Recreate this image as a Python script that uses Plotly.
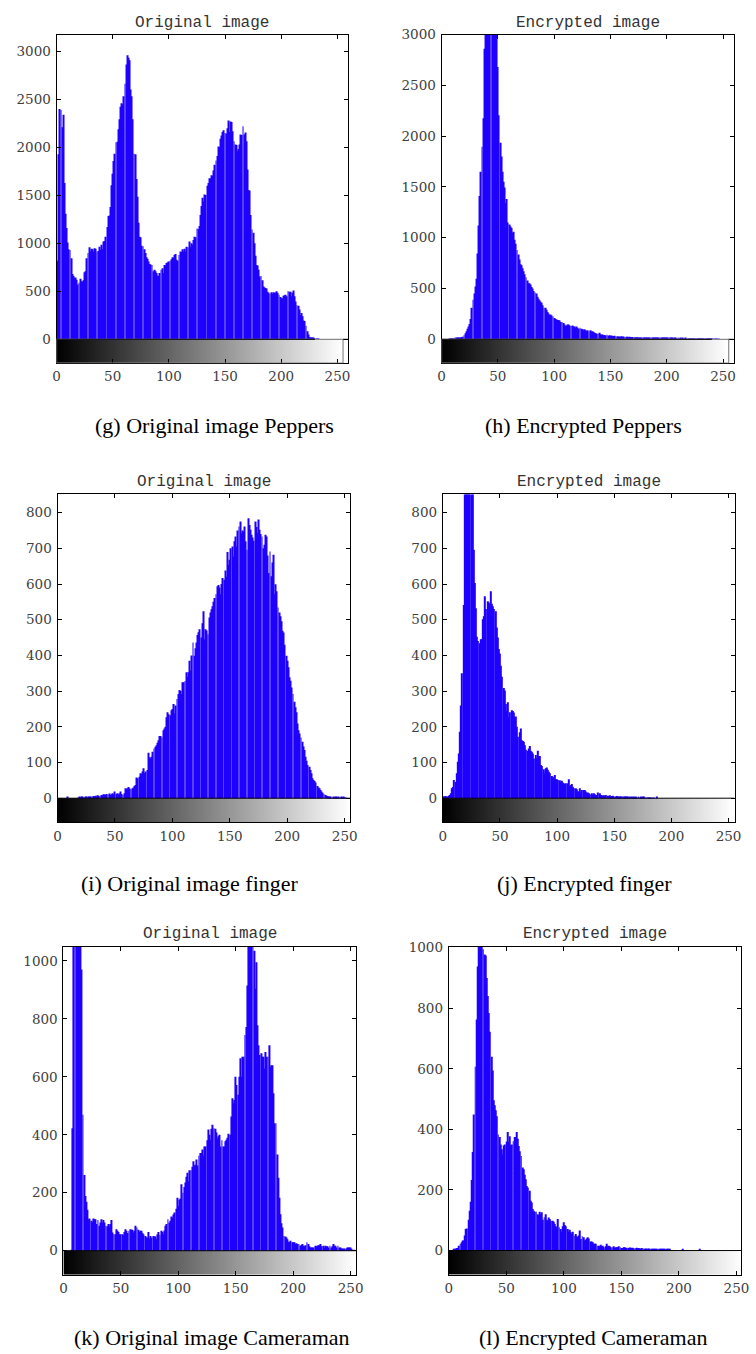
import plotly.graph_objects as go

W, H = 756, 1354

BINS = list(range(256))
X_TICKS = [0, 50, 100, 150, 200, 250]

# (g) Original image Peppers
PEPPERS_ORIG = [
    240, 820, 1930, 2400, 2390, 2210, 2340, 1630, 1310, 1160,
    1010, 940, 930, 845, 680, 660, 640, 645, 620, 570,
    590, 630, 605, 600, 615, 700, 710, 845, 900, 960,
    915, 945, 940, 910, 950, 945, 915, 920, 965, 930,
    985, 940, 1020, 1025, 1070, 1170, 1285, 1290, 1380, 1605,
    1725, 1860, 1935, 2055, 2060, 2190, 2295, 2425, 2460, 2450,
    2535, 2665, 2865, 2960, 2935, 2910, 2605, 2535, 2295, 1935,
    1930, 1670, 1485, 1215, 1070, 1065, 975, 970, 940, 900,
    855, 840, 810, 785, 780, 775, 710, 725, 710, 690,
    665, 660, 690, 725, 740, 690, 775, 770, 795, 800,
    810, 820, 835, 855, 850, 880, 890, 830, 820, 880,
    915, 910, 940, 915, 945, 915, 965, 960, 1020, 965,
    1000, 985, 1035, 1070, 1065, 1155, 1150, 1180, 1295, 1390,
    1475, 1440, 1510, 1505, 1600, 1630, 1680, 1675, 1710, 1705,
    1760, 1820, 1865, 1910, 2010, 2005, 2090, 2125, 2160, 2180,
    2150, 2145, 2200, 2280, 2160, 2270, 2265, 2170, 2065, 2030,
    2025, 1960, 1985, 2030, 2135, 2130, 2220, 2135, 2155, 2065,
    1770, 1555, 1550, 1295, 1145, 1110, 1000, 870, 775, 770,
    725, 655, 660, 615, 550, 540, 535, 530, 495, 485,
    475, 490, 475, 490, 485, 485, 500, 485, 465, 440,
    430, 425, 455, 460, 465, 450, 500, 495, 495, 450,
    485, 510, 450, 395, 355, 350, 310, 250, 275, 240,
    195, 190, 140, 85, 50, 25, 15, 12, 10, 10,
    5, 3, 2, 1, 0, 0, 0, 0, 0, 0,
    0, 0, 0, 0, 0, 0, 0, 0, 0, 0,
    0, 0, 0, 0, 0, 0,
]

# (h) Encrypted Peppers
PEPPERS_ENC = [
    0, 0, 0, 0, 0, 0, 0, 1, 1, 2,
    3, 5, 8, 10, 8, 12, 14, 16, 20, 26,
    40, 60, 80, 105, 125, 150, 200, 310, 390, 450,
    520, 595, 845, 1120, 1410, 1650, 1895, 2175, 2860, 3400,
    3700, 4100, 4300, 4250, 3900, 3800, 3600, 3400, 3200, 3050,
    2680, 2205, 1935, 1800, 1650, 1550, 1495, 1340, 1380, 1150,
    1130, 1110, 1095, 1050, 1060, 980, 940, 880, 835, 785,
    740, 730, 700, 670, 640, 610, 580, 555, 550, 540,
    515, 500, 475, 460, 450, 420, 400, 385, 370, 360,
    335, 310, 310, 290, 270, 255, 240, 245, 235, 225,
    210, 200, 195, 190, 190, 185, 170, 170, 160, 145,
    130, 135, 145, 145, 135, 130, 135, 125, 125, 115,
    125, 115, 105, 115, 105, 100, 90, 100, 90, 80,
    90, 80, 90, 78, 80, 72, 65, 60, 58, 52,
    65, 50, 45, 48, 40, 42, 38, 45, 35, 40,
    35, 38, 30, 32, 35, 28, 30, 26, 28, 25,
    30, 25, 27, 22, 25, 24, 20, 26, 22, 20,
    22, 18, 20, 17, 21, 18, 16, 19, 15, 17,
    15, 16, 14, 17, 13, 15, 12, 14, 13, 12,
    14, 11, 12, 10, 13, 11, 9, 12, 10, 9,
    10, 8, 11, 9, 8, 10, 7, 9, 8, 7,
    8, 7, 9, 6, 8, 7, 6, 8, 5, 7,
    6, 5, 7, 5, 6, 4, 6, 5, 4, 6,
    4, 5, 3, 4, 5, 3, 4, 3, 2, 3,
    2, 1, 2, 1, 1, 0, 1, 0, 0, 0,
    0, 0, 0, 0, 0, 0,
]

# (i) Original image finger
FINGER_ORIG = [
    0, 0, 0, 0, 0, 0, 0, 0, 0, 3,
    0, 0, 0, 0, 0, 0, 0, 0, 2, 3,
    2, 3, 4, 2, 3, 4, 0, 3, 4, 5,
    4, 6, 5, 7, 5, 8, 7, 6, 9, 8,
    11, 10, 9, 12, 10, 13, 9, 11, 14, 10,
    19, 12, 14, 10, 13, 19, 12, 9, 14, 28,
    25, 28, 31, 27, 25, 28, 30, 34, 37, 58,
    56, 60, 70, 68, 75, 84, 70, 75, 79, 127,
    115, 111, 116, 130, 139, 144, 148, 155, 162, 174,
    174, 170, 190, 195, 200, 227, 241, 235, 232, 246,
    250, 264, 238, 260, 278, 292, 303, 300, 292, 325,
    325, 328, 353, 340, 353, 385, 357, 400, 436, 399,
    420, 436, 457, 465, 473, 450, 490, 524, 445, 473,
    470, 459, 506, 520, 529, 538, 550, 561, 571, 594,
    597, 590, 571, 600, 617, 612, 638, 620, 690, 654,
    668, 700, 705, 677, 720, 733, 705, 750, 761, 775,
    742, 750, 747, 761, 720, 696, 784, 765, 752, 738,
    730, 721, 775, 760, 742, 781, 752, 740, 733, 700,
    710, 738, 733, 680, 631, 691, 622, 660, 682, 571,
    599, 580, 534, 520, 510, 496, 469, 464, 430, 399,
    385, 367, 339, 329, 310, 292, 270, 255, 241, 209,
    190, 181, 170, 158, 145, 135, 116, 105, 93, 88,
    79, 70, 56, 51, 48, 44, 34, 30, 28, 23,
    19, 15, 12, 9, 7, 6, 5, 3, 4, 2,
    3, 2, 4, 3, 2, 5, 2, 3, 1, 4,
    2, 1, 0, 0, 0, 0,
]

# (j) Encrypted finger
FINGER_ENC = [
    5, 4, 5, 6, 5, 7, 9, 14, 28, 31,
    51, 45, 70, 102, 125, 186, 260, 350, 541, 1000,
    1150, 1250, 1300, 1200, 1100, 1000, 950, 696, 603, 532,
    452, 440, 434, 445, 445, 501, 510, 566, 530, 552,
    548, 543, 580, 545, 538, 530, 524, 478, 450, 418,
    405, 371, 340, 309, 302, 264, 244, 269, 227, 241,
    246, 244, 240, 227, 229, 200, 172, 185, 195, 162,
    160, 158, 148, 136, 133, 139, 146, 133, 130, 125,
    111, 121, 111, 133, 118, 118, 93, 90, 81, 70,
    84, 86, 80, 74, 70, 62, 60, 56, 65, 53,
    53, 51, 50, 46, 49, 44, 42, 40, 42, 42,
    53, 34, 37, 40, 32, 28, 28, 25, 19, 19,
    28, 16, 23, 23, 23, 19, 14, 16, 14, 11,
    14, 9, 14, 11, 9, 9, 16, 14, 9, 8,
    7, 8, 6, 9, 7, 6, 8, 5, 6, 7,
    5, 4, 6, 5, 4, 5, 3, 5, 4, 3,
    4, 3, 4, 2, 3, 4, 2, 3, 2, 4,
    2, 3, 2, 4, 2, 3, 4, 2, 1, 2,
    1, 2, 1, 0, 1, 1, 0, 4, 0, 0,
    0, 0, 0, 0, 0, 0, 0, 0, 0, 0,
    0, 0, 0, 0, 0, 0, 0, 0, 0, 0,
    0, 0, 0, 0, 0, 0, 0, 0, 0, 0,
    0, 0, 0, 0, 0, 0, 0, 0, 0, 0,
    0, 0, 0, 0, 0, 0, 0, 0, 0, 0,
    0, 0, 0, 0, 0, 0, 0, 0, 0, 0,
    0, 0, 0, 0, 0, 0,
]

# (k) Original image Cameraman
CAMERAMAN_ORIG = [
    0, 0, 0, 0, 0, 0, 0, 3, 423, 1600,
    2300, 2500, 2200, 1900, 1500, 1200, 970, 469, 261, 189,
    169, 141, 109, 111, 103, 100, 111, 109, 109, 92,
    106, 86, 97, 109, 97, 106, 97, 86, 84, 92,
    84, 92, 106, 63, 57, 57, 74, 69, 65, 57,
    57, 57, 54, 65, 74, 69, 61, 69, 74, 72,
    72, 63, 69, 86, 80, 72, 65, 69, 69, 61,
    57, 51, 46, 46, 65, 42, 51, 46, 51, 49,
    49, 40, 57, 65, 54, 69, 65, 57, 70, 86,
    92, 109, 97, 103, 118, 114, 125, 132, 145, 183,
    154, 177, 180, 229, 200, 220, 235, 255, 269, 240,
    278, 278, 290, 309, 294, 297, 315, 294, 328, 337,
    337, 349, 328, 360, 360, 381, 418, 400, 383, 421,
    435, 423, 421, 408, 386, 395, 400, 360, 381, 360,
    360, 378, 383, 390, 404, 400, 463, 526, 509, 520,
    600, 572, 538, 600, 664, 600, 669, 669, 744, 772,
    915, 1150, 1300, 1250, 1100, 1180, 1035, 904, 995, 778,
    709, 675, 681, 669, 669, 629, 686, 669, 669, 709,
    635, 640, 640, 543, 440, 440, 332, 252, 183, 126,
    95, 80, 51, 49, 46, 40, 31, 29, 34, 29,
    29, 29, 23, 26, 23, 23, 17, 20, 23, 17,
    15, 19, 29, 23, 15, 11, 11, 11, 11, 17,
    15, 17, 19, 19, 23, 15, 17, 11, 17, 15,
    15, 11, 17, 11, 15, 23, 17, 17, 11, 17,
    11, 11, 8, 8, 6, 8, 8, 11, 11, 11,
    11, 6, 3, 1, 0, 0,
]

# (l) Encrypted Cameraman
CAMERAMAN_ENC = [
    0, 0, 0, 0, 5, 5, 5, 8, 8, 16,
    22, 27, 33, 33, 50, 71, 73, 102, 131, 161,
    233, 325, 449, 607, 763, 938, 1010, 1020, 1030, 1010,
    995, 977, 974, 900, 840, 784, 722, 640, 594, 496,
    480, 463, 443, 383, 375, 350, 334, 317, 347, 350,
    360, 391, 358, 377, 347, 350, 361, 375, 375, 391,
    369, 345, 328, 312, 274, 268, 250, 235, 213, 208,
    197, 164, 159, 137, 131, 128, 128, 120, 117, 128,
    120, 126, 102, 110, 120, 102, 98, 109, 104, 98,
    98, 95, 88, 80, 77, 104, 77, 71, 62, 80,
    93, 84, 80, 71, 62, 69, 60, 55, 62, 49,
    55, 47, 44, 50, 66, 38, 47, 44, 33, 36,
    40, 44, 40, 30, 30, 27, 22, 22, 22, 16,
    16, 14, 19, 14, 16, 11, 14, 22, 14, 16,
    14, 11, 11, 14, 8, 11, 11, 11, 14, 11,
    8, 8, 11, 11, 8, 9, 8, 10, 9, 8,
    9, 7, 8, 9, 7, 8, 7, 6, 8, 7,
    6, 7, 5, 6, 7, 5, 6, 5, 5, 6,
    5, 4, 5, 5, 4, 5, 4, 5, 4, 5,
    4, 5, 4, 0, 0, 0, 0, 0, 0, 0,
    0, 0, 0, 5, 0, 0, 0, 0, 0, 0,
    0, 0, 0, 0, 0, 0, 0, 0, 5, 0,
    0, 0, 0, 0, 0, 0, 0, 0, 0, 0,
    0, 0, 0, 0, 0, 0, 0, 0, 0, 0,
    0, 0, 0, 0, 0, 0, 0, 0, 0, 0,
    0, 0, 0, 0, 0, 0,
]

TITLES = ["Original image", "Encrypted image"] * 3
CAPTIONS = [
    "(g) Original image Peppers", "(h) Encrypted Peppers",
    "(i) Original image finger", "(j) Encrypted finger",
    "(k) Original image Cameraman", "(l) Encrypted Cameraman",
]
Y_TICKS = [
    [0, 500, 1000, 1500, 2000, 2500, 3000],
    [0, 500, 1000, 1500, 2000, 2500, 3000],
    [0, 100, 200, 300, 400, 500, 600, 700, 800],
    [0, 100, 200, 300, 400, 500, 600, 700, 800],
    [0, 200, 400, 600, 800, 1000],
    [0, 200, 400, 600, 800, 1000],
]
SERIES = [PEPPERS_ORIG, PEPPERS_ENC, FINGER_ORIG, FINGER_ENC, CAMERAMAN_ORIG, CAMERAMAN_ENC]

# layout geometry (pixels): box (left, right, top, bottom), axis ranges
PANELS = [
    dict(box=(53.3, 349.3, 26.7, 357.3), xr=[0, 259.6], yr=[-249, 3177], ty=15, cx=214, cy=419.5, gbox=True, last=230),
    dict(box=(444.0, 740.3, 26.7, 357.3), xr=[0, 259.3], yr=[-235, 3000], ty=15, cx=588, cy=419.5, gbox=True, last=240),
    dict(box=(54.3, 351.3, 489.3, 819.3), xr=[0, 254.8], yr=[-68, 851], ty=477, cx=189, cy=881, gbox=False, last=None),
    dict(box=(445.3, 741.3, 489.3, 819.3), xr=[0, 255.2], yr=[-68, 851], ty=477, cx=589, cy=881, gbox=False, last=None),
    dict(box=(60.3, 357.3, 944.3, 1274.3), xr=[0, 254.8], yr=[-83, 1049], ty=932, cx=211, cy=1337, gbox=False, last=None),
    dict(box=(451.3, 748.0, 944.3, 1274.3), xr=[0, 254.0], yr=[-80, 1003], ty=932, cx=598, cy=1337, gbox=False, last=None),
]

BLUE = "#1f00ff"
TICK_FONT = dict(family="DejaVu Serif", size=13.5, color="#404040")

fig = go.Figure()
shapes = []
annotations = []
layout = dict(width=W, height=H, margin=dict(l=0, r=0, t=0, b=0),
              paper_bgcolor="white", plot_bgcolor="white", showlegend=False)

edges = [i * 255 / 256 for i in range(257)]

for k, (p, vals) in enumerate(zip(PANELS, SERIES)):
    n = k + 1
    xa = "x" if n == 1 else f"x{n}"
    ya = "y" if n == 1 else f"y{n}"
    l, r, t, b = p["box"]
    fig.add_trace(go.Heatmap(z=[BINS], x=edges, y=[p["yr"][0], 0], zmin=0, zmax=255,
                             colorscale=[[0, "black"], [1, "white"]], showscale=False,
                             hoverinfo="skip", xaxis=xa, yaxis=ya))
    fig.add_trace(go.Bar(x=BINS, y=vals, width=0.8, marker=dict(color=BLUE, line=dict(width=0)),
                         xaxis=xa, yaxis=ya))
    common = dict(showline=True, linecolor="black", linewidth=1, mirror="allticks",
                  ticks="inside", ticklen=4, tickcolor="black", showgrid=False, zeroline=False,
                  tickfont=TICK_FONT, fixedrange=True)
    layout[f"xaxis{n}"] = dict(domain=[l / W, r / W], range=p["xr"], anchor=ya,
                               tickvals=X_TICKS, ticklabelstandoff=1, **common)
    layout[f"yaxis{n}"] = dict(domain=[1 - b / H, 1 - t / H], range=p["yr"], anchor=xa,
                               tickvals=Y_TICKS[k], ticklabelstandoff=2, **common)
    if p["gbox"]:
        shapes.append(dict(type="rect", xref=xa, yref=ya, x0=0, x1=255, y0=p["yr"][0], y1=0,
                           line=dict(color="#8a8a8a", width=1.2)))
        shapes.append(dict(type="line", xref=xa, yref=ya, x0=0, x1=p["last"], y0=0, y1=0,
                           line=dict(color="black", width=1)))
        shapes.append(dict(type="line", xref=xa, yref=ya, x0=255, x1=p["xr"][1], y0=0, y1=0,
                           line=dict(color="black", width=1)))
    else:
        shapes.append(dict(type="line", xref=xa, yref=ya, x0=0, x1=p["xr"][1], y0=0, y1=0,
                           line=dict(color="black", width=1)))
    annotations.append(dict(text=TITLES[k], xref="paper", yref="paper",
                            x=(l + r) / 2 / W, y=1 - p["ty"] / H, xanchor="center", yanchor="middle",
                            showarrow=False, font=dict(family="Liberation Mono", size=16, color="#333333")))
    annotations.append(dict(text=CAPTIONS[k], xref="paper", yref="paper",
                            x=p["cx"] / W, y=1 - p["cy"] / H, xanchor="center", yanchor="middle",
                            showarrow=False, font=dict(family="Liberation Serif", size=22, color="black")))

layout["shapes"] = shapes
layout["annotations"] = annotations
fig.update_layout(**layout)
fig.write_html("out.html")
